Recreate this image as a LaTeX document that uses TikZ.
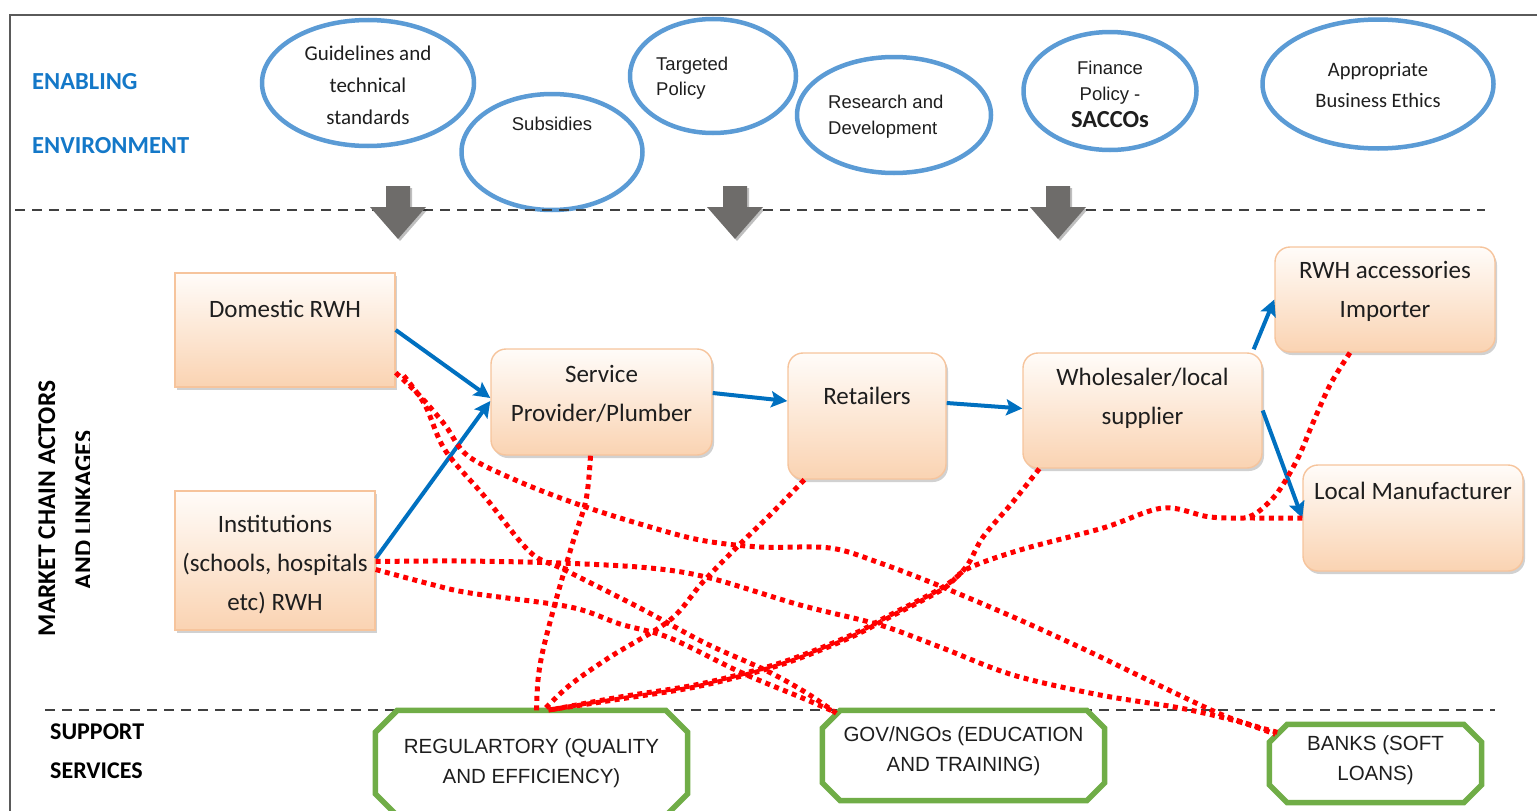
\documentclass[tikz,border=0pt]{standalone}
\usepackage{fontspec}
\setmainfont{Carlito}
\newfontfamily\arialfont{Liberation Sans}
\usetikzlibrary{shapes.geometric, arrows.meta, shadows, calc}

\definecolor{ellblue}{HTML}{5B9BD5}
\definecolor{flowblue}{HTML}{0070C0}
\definecolor{labelblue}{HTML}{1478C8}
\definecolor{boxtop}{HTML}{FFFCF9}
\definecolor{boxbot}{HTML}{FAD3B2}
\definecolor{boxline}{HTML}{F6C49C}
\definecolor{suppgreen}{HTML}{70AD47}
\definecolor{sepgray}{HTML}{404040}
\definecolor{arrowgray}{HTML}{6E6C6A}
\definecolor{framegray}{HTML}{5A5A5A}
\definecolor{linkred}{HTML}{FF0000}
\definecolor{txtdark}{HTML}{1E1E1E}

% octagonal outline round a support-service node
\newcommand{\suppoct}[2]{%
  \draw[suppline] ([xshift=#2]#1.north west) -- ([xshift=-#2]#1.north east)
    -- ([yshift=-#2]#1.north east) -- ([yshift=#2]#1.south east)
    -- ([xshift=-#2]#1.south east) -- ([xshift=#2]#1.south west)
    -- ([yshift=#2]#1.south west) -- ([yshift=-#2]#1.north west) -- cycle;}

\tikzset{
  ellnode/.style={ellipse, draw=ellblue, line width=4.5pt, inner sep=0pt},
  actorbox/.style={rectangle, draw=boxline, line width=1.4pt, top color=boxtop,
    bottom color=boxbot, inner sep=0pt,
    drop shadow={shadow xshift=2pt, shadow yshift=-3pt, opacity=0.3, fill=black!60}},
  actorround/.style={actorbox, rounded corners=15pt},
  actortext/.style={font=\fontsize{25}{39}\selectfont, text=txtdark, align=center, inner sep=0pt},
  envtext/.style={text=txtdark, inner sep=0pt},
  flow/.style={draw=flowblue, line width=4pt, -{Stealth[length=16pt,width=16pt,inset=3pt]}},
  link/.style={draw=linkred, line width=5pt, dash pattern=on 5pt off 4.5pt},
  suppline/.style={draw=suppgreen, line width=5.5pt, fill=white, line join=miter},
  suppnode/.style={rectangle, inner sep=0pt},
  supptext/.style={font=\arialfont\fontsize{20.5}{30}\selectfont, text=txtdark, align=center, inner sep=0pt},
  sepline/.style={draw=sepgray, line width=2.8pt, dash pattern=on 10pt off 7pt},
  sidelabel/.style={font=\bfseries\fontsize{24.5}{30}\selectfont, inner sep=0pt},
}

\begin{document}
\begin{tikzpicture}[x=1pt, y=-1pt]
\useasboundingbox (0,0) rectangle (1537,811);

% outer frame
\draw[framegray, line width=2.5pt] (10,811) -- (10,15) -- (1537,15);

% ---------------- enabling environment ----------------
\node[sidelabel, text=labelblue, anchor=west] (enab) at (32,82) {ENABLING};
\node[sidelabel, text=labelblue, anchor=west] (envi) at (32,146) {ENVIRONMENT};

\node[ellnode, minimum width=212pt, minimum height=126pt] (gui) at (368,83) {};
\node[ellnode, minimum width=181pt, minimum height=116pt] (sub) at (552,152) {};
\node[ellnode, minimum width=166pt, minimum height=114pt] (tar) at (713,76) {};
\node[ellnode, minimum width=194pt, minimum height=116pt] (res) at (894,115) {};
\node[ellnode, minimum width=173pt, minimum height=118pt] (fin) at (1110,91) {};
\node[ellnode, minimum width=231pt, minimum height=129pt] (app) at (1378,84) {};

\node[envtext, align=center, font=\fontsize{21}{32}\selectfont] (gui-t) at (368,85)
  {Guidelines and\\technical\\standards};
\node[envtext, font=\arialfont\fontsize{18.5}{26}\selectfont] (sub-t) at (552,124) {Subsidies};
\node[envtext, align=left, anchor=west, font=\arialfont\fontsize{18.5}{25}\selectfont] (tar-t) at (656,78)
  {Targeted\\Policy};
\node[envtext, align=left, anchor=west, font=\arialfont\fontsize{18.5}{26}\selectfont] (res-t) at (828,117)
  {Research and\\Development};
\node[envtext, align=center, font=\arialfont\fontsize{18.5}{26}\selectfont] (fin-t) at (1110,94)
  {Finance\\Policy -\\[1pt]{\rmfamily\bfseries\fontsize{24.5}{26}\selectfont SACCOs}};
\node[envtext, align=center, font=\fontsize{20.5}{31}\selectfont] (app-t) at (1378,85)
  {Appropriate\\Business Ethics};

% section separators
\coordinate (sepA-l) at (15,210);
\coordinate (sepA-r) at (1485,210);
\coordinate (sepB-l) at (45,710);
\coordinate (sepB-r) at (1495,710);
\draw[sepline] (sepA-l) -- (sepA-r);
\draw[sepline] (sepB-l) -- (sepB-r);

% block arrows from the enabling environment
\foreach \n/\x in {ga1/398, ga2/735, ga3/1058}{
  \coordinate (\n) at (\x,186);
  \fill[black, opacity=0.25] ($(\n)+(-9,2)$) -- ($(\n)+(14,2)$) -- ($(\n)+(14,23)$) -- ($(\n)+(30,23)$)
    -- ($(\n)+(2,55)$) -- ($(\n)+(-25,23)$) -- ($(\n)+(-9,23)$) -- cycle;
  \fill[arrowgray] ($(\n)+(-12,0)$) -- ($(\n)+(12,0)$) -- ($(\n)+(12,21)$) -- ($(\n)+(28,21)$)
    -- ($(\n)+(0,53)$) -- ($(\n)+(-28,21)$) -- ($(\n)+(-12,21)$) -- cycle;
}

% ---------------- market chain actors ----------------
\node[sidelabel, rotate=90, anchor=base, font=\bfseries\fontsize{25.5}{30}\selectfont] (mkt1) at (55,508.5)
  {MARKET CHAIN ACTORS};
\begin{scope}
  \clip (60,300) rectangle (89,700);
  \node[sidelabel, rotate=90, anchor=base, font=\bfseries\fontsize{25.5}{30}\selectfont] (mkt2) at (92,510)
    {AND LINKAGES};
\end{scope}

\node[actorbox, minimum width=220pt, minimum height=114pt] (dom) at (285,330) {};
\node[actorbox, minimum width=200pt, minimum height=139pt] (ins) at (275,560.5) {};
\node[actorround, minimum width=221pt, minimum height=106pt] (sp) at (601.5,402) {};
\node[actorround, minimum width=158pt, minimum height=126pt] (ret) at (867,416) {};
\node[actorround, minimum width=239pt, minimum height=115pt] (whs) at (1142.5,410.5) {};
\node[actorround, minimum width=220pt, minimum height=105pt] (imp) at (1385,299.5) {};
\node[actorround, minimum width=220pt, minimum height=106pt] (man) at (1413,518) {};

\node[actortext] (dom-t) at (285,309) {Domestic RWH};
\node[actortext] (ins-t) at (275,565) {Institutions\\(schools, hospitals\\etc) RWH};
\node[actortext] (sp-t)  at (601.5,394) {Service\\Provider/Plumber};
\node[actortext] (ret-t) at (867,396) {Retailers};
\node[actortext] (whs-t) at (1142.5,398) {Wholesaler/local\\supplier};
\node[actortext] (imp-t) at (1385,291) {RWH accessories\\Importer};
\node[actortext] (man-t) at (1413,491) {Local Manufacturer};

% product flow
\draw[flow] (dom.east) -- ([yshift=4pt]sp.west);
\draw[flow] ([yshift=2pt]ins.east) -- ([yshift=1pt]sp.west);
\draw[flow] ([yshift=9pt]sp.east) -- ([yshift=15pt]ret.west);
\draw[flow] ([yshift=13pt]ret.east) -- ([yshift=2pt]whs.west);
\draw[flow] ([xshift=-9pt,yshift=3pt]whs.north east) -- (imp.west);
\draw[flow] (whs.east) -- (man.west);

% ---------------- support services ----------------
\node[sidelabel, anchor=west, font=\bfseries\fontsize{24}{30}\selectfont] (sup1) at (50,732) {SUPPORT};
\node[sidelabel, anchor=west, font=\bfseries\fontsize{24}{30}\selectfont] (sup2) at (50,771) {SERVICES};

\node[suppnode, minimum width=312pt, minimum height=105pt] (reg) at (531.5,763) {};
\node[suppnode, minimum width=282pt, minimum height=90pt] (gov) at (963.5,755.5) {};
\node[suppnode, minimum width=212pt, minimum height=78pt] (bank) at (1375.5,763.5) {};
\suppoct{reg}{22pt}
\suppoct{gov}{18pt}
\suppoct{bank}{18pt}
\node[supptext] (reg-t) at (531.5,763) {REGULARTORY (QUALITY\\AND EFFICIENCY)};
\node[supptext] (gov-t) at (963.5,751) {GOV/NGOs (EDUCATION\\AND TRAINING)};
\node[supptext] (bank-t) at (1375.5,760) {BANKS (SOFT\\LOANS)};

% linkages to support services
\coordinate (merge) at (1245,518);
\draw[link] plot[smooth, tension=0.55] coordinates {([yshift=15pt]dom.south east) (420,396) (445,425) (468,456)
  (520,482) (580,505) (640,524) (700,540) (760,547) (830,548) (880,563) (940,586) (1020,620) (1090,652)
  (1150,681) (1225,716) ([xshift=8pt,yshift=-8pt]bank.north west)};
\draw[link] plot[smooth, tension=0.55] coordinates {([xshift=8pt,yshift=12pt]dom.south east) (425,405) (445,450)
  (485,497) (530,552) (565,570) (640,608) (705,643) (765,670) (805,692) ([xshift=14pt,yshift=-3pt]gov.north west)};
\draw[link] plot[smooth, tension=0.55] coordinates {([yshift=-1pt]ins.east) (460,561) (560,563) (650,568)
  (710,578) (800,605) (880,625) (940,647) (1013,675) (1100,695) (1180,708) (1240,722)
  ([xshift=6pt,yshift=-10pt]bank.north west)};
\draw[link] plot[smooth, tension=0.55] coordinates {([yshift=-9pt]ins.east) (430,584) (470,593) (570,607)
  (620,624) (670,638) (740,672) (800,697) ([xshift=11pt,yshift=-1pt]gov.north west)};
\draw[link] plot[smooth, tension=0.55] coordinates {([xshift=-11pt]sp.south) (586,500) (572,545) (556,600)
  (543,650) (538,680) ([xshift=5pt]reg.north)};
\draw[link] plot[smooth, tension=0.55] coordinates {([xshift=17pt]ret.south west) (772,513) (737,547) (702,583)
  (670,620) (610,657) (570,685) ([xshift=12pt]reg.north)};
\draw[link] plot[smooth, tension=0.55] coordinates {([xshift=17pt]whs.south west) (1012,503) (983,537) (966,567)
  (943,587) (890,615) (847,637) (780,663) (700,684) (620,697) ([xshift=17pt]reg.north)};
\draw[link] plot[smooth, tension=0.55] coordinates {(man.west) (1255,518) (1210,517) (1163,508) (1103,528)
  (1020,550) (967,569) (943,589) (890,617) (847,639) (780,665) (700,686) (620,699) ([xshift=15pt]reg.north)};
\draw[link] plot[smooth, tension=0.55] coordinates {([xshift=-35pt]imp.south) (1330,385) (1312,425) (1298,458)
  (1278,492) (1258,512) (merge)};
\end{tikzpicture}
\end{document}
